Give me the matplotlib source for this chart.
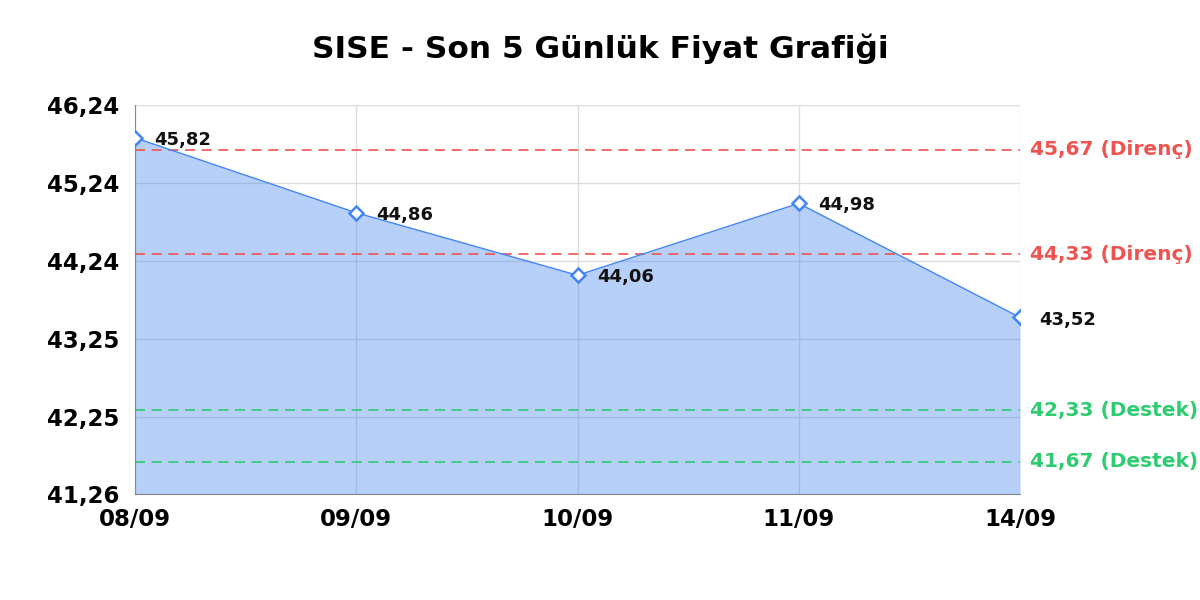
import matplotlib.pyplot as plt

# data
dates = ['08/09', '09/09', '10/09', '11/09', '14/09']
prices = [45.82, 44.86, 44.06, 44.98, 43.52]
resistance = [45.67, 44.33]
support = [42.33, 41.67]
yticks = [41.26, 42.25, 43.25, 44.24, 45.24, 46.24]

fig = plt.figure(figsize=(12, 6), dpi=100)
ax = fig.add_axes([0.1125, 0.1767, 0.7375, 0.6483])

x = list(range(len(dates)))
line_color = '#4285f4'

ax.fill_between(x, prices, yticks[0], color=line_color, alpha=0.38, lw=0, zorder=1)
ax.plot(x, prices, color=line_color, lw=1, zorder=3)
ax.plot(x, prices, 'D', ms=7, mfc='white', mec=line_color, mew=1.8, zorder=4)

for xi, p in zip(x, prices):
    ax.annotate(f'{p:.2f}'.replace('.', ','), (xi, p), xytext=(14, -1.5),
                textcoords='offset points', va='center', ha='left',
                fontsize=13, fontweight='bold', color='#111111', zorder=5)

for lvl in resistance:
    ax.axhline(lvl, color='#ef5350', ls=(0, (6, 4)), lw=1.2, zorder=2)
    ax.text(1.011, lvl, f'{lvl:.2f}'.replace('.', ',') + ' (Direnç)',
            transform=ax.get_yaxis_transform(), va='center', ha='left',
            fontsize=14.5, fontweight='bold', color='#ef5350')
for lvl in support:
    ax.axhline(lvl, color='#2ecc71', ls=(0, (6, 4)), lw=1.2, zorder=2)
    ax.text(1.011, lvl, f'{lvl:.2f}'.replace('.', ',') + ' (Destek)',
            transform=ax.get_yaxis_transform(), va='center', ha='left',
            fontsize=14.5, fontweight='bold', color='#2ecc71')

ax.set_xlim(0, len(dates) - 1)
ax.set_ylim(yticks[0], yticks[-1])
ax.set_xticks(x)
ax.set_xticklabels(dates, fontsize=16.5, fontweight='bold')
ax.set_yticks(yticks)
ax.set_yticklabels([f'{t:.2f}'.replace('.', ',') for t in yticks],
                   fontsize=16.5, fontweight='bold')
ax.tick_params(axis='y', length=0, pad=11)
ax.tick_params(axis='x', length=0, pad=10)
ax.grid(True, color='#dddddd', lw=1, zorder=0)
ax.set_axisbelow(True)

for s in ['top', 'right']:
    ax.spines[s].set_visible(False)
for s in ['left', 'bottom']:
    ax.spines[s].set_color('#888888')

fig.suptitle('SISE - Son 5 Günlük Fiyat Grafiği', x=0.5, y=0.945,
             fontsize=22.5, fontweight='bold')

fig.savefig('out.png', dpi=100)
